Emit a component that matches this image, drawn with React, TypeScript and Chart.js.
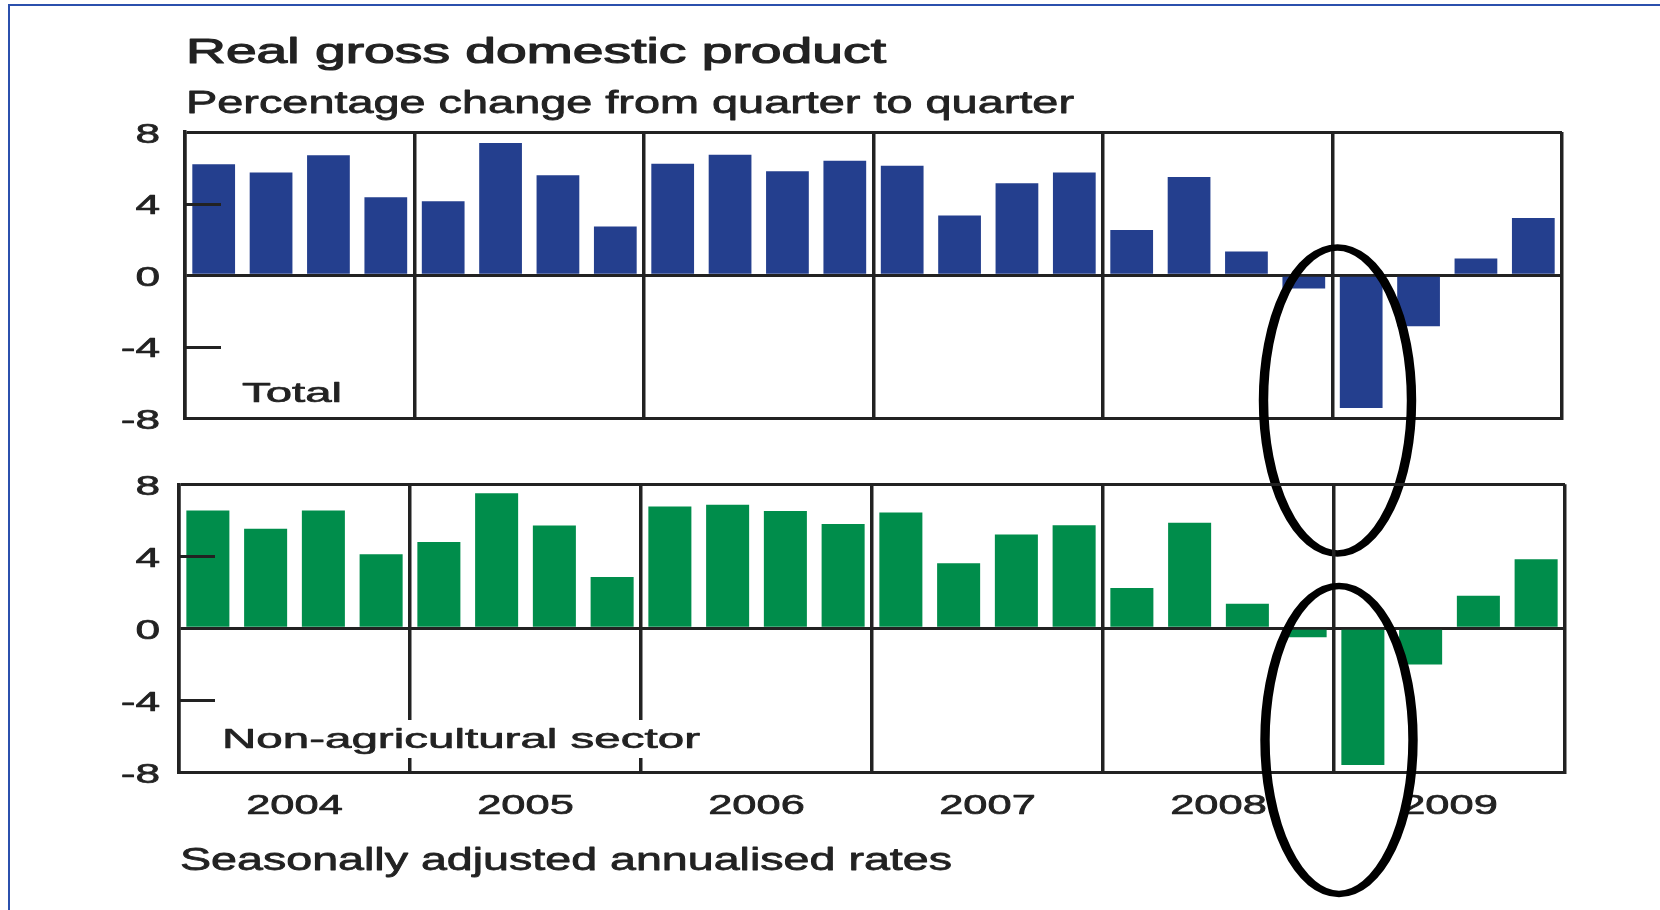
import { useEffect, useRef } from 'react';
import { Chart, registerables } from 'chart.js';

Chart.register(...registerables);

const YEARS = ['2004', '2005', '2006', '2007', '2008', '2009'];
const QUARTER_NAMES = ['Q1', 'Q2', 'Q3', 'Q4'];
const QUARTERS = YEARS.flatMap((y) => QUARTER_NAMES.map((q) => `${y} ${q}`));

const TOTAL_GDP = [
  6.2, 5.73, 6.7, 4.35,
  4.13, 7.39, 5.58, 2.72,
  6.23, 6.73, 5.8, 6.4,
  6.12, 3.34, 5.14, 5.73,
  2.52, 5.49, 1.32, -0.74,
  -7.42, -2.86, 0.93, 3.19,
];

const NONAG_GDP = [
  6.54, 5.53, 6.54, 4.12,
  4.79, 7.5, 5.71, 2.85,
  6.77, 6.86, 6.51, 5.8,
  6.43, 3.62, 5.21, 5.73,
  2.24, 5.86, 1.37, -0.5,
  -7.6, -2.01, 1.81, 3.83,
];

const Y_TICKS = [-8, -4, 0, 4, 8];
const Y_FRAME_TICKS = [-8, 0, 8];
const Y_INNER_TICKS = [4, -4, -8];

const TITLE = 'Real gross domestic product';
const SUBTITLE = 'Percentage change from quarter to quarter';
const PANEL_TOP = 'Total';
const PANEL_BOTTOM = 'Non-agricultural sector';
const FOOTNOTE = 'Seasonally adjusted annualised rates';

const INK = '#222222';
const BLUE = '#243f8e';
const GREEN = '#008d4b';
const FONT = '"Liberation Sans", Arial, Helvetica, sans-serif';
const STRETCH = 1.5;

type TextOpts = {
  size: number;
  width?: number;
  scaleX?: number;
  align?: 'left' | 'right' | 'center';
  weight?: string;
  heavy?: number;
};

function drawStretched(ctx: CanvasRenderingContext2D, text: string, x: number, y: number, o: TextOpts) {
  ctx.save();
  ctx.font = `${o.weight || 'normal'} ${o.size}px ${FONT}`;
  ctx.textBaseline = 'alphabetic';
  ctx.textAlign = 'left';
  ctx.fillStyle = INK;
  ctx.strokeStyle = INK;
  ctx.lineJoin = 'round';
  const w = ctx.measureText(text).width;
  const sx = o.width ? o.width / w : o.scaleX || STRETCH;
  ctx.translate(x, y);
  ctx.scale(sx, 1);
  const dx = o.align === 'right' ? -w : o.align === 'center' ? -w / 2 : 0;
  ctx.fillText(text, dx, 0);
  ctx.lineWidth = o.heavy !== undefined ? o.heavy : o.size * 0.024;
  ctx.strokeText(text, dx, 0);
  ctx.restore();
}

function drawYLabels(chart: any, labelRight: number) {
  const ctx = chart.ctx as CanvasRenderingContext2D;
  const y = chart.scales.y;
  const area = chart.chartArea;
  for (const t of y.ticks) {
    const py = y.getPixelForValue(t.value);
    drawStretched(ctx, String(t.value), labelRight, py + 10.5, { size: 28, scaleX: 1.58, align: 'right' });
  }
  ctx.save();
  ctx.strokeStyle = INK;
  ctx.lineWidth = 3;
  for (const v of Y_INNER_TICKS) {
    const py = Math.round(y.getPixelForValue(v)) + 0.5;
    ctx.beginPath();
    ctx.moveTo(area.left, py);
    ctx.lineTo(area.left + 36, py);
    ctx.stroke();
  }
  ctx.restore();
}

function drawEllipse(chart: any, centerValue: number, rx: number, ry: number) {
  const ctx = chart.ctx as CanvasRenderingContext2D;
  const x = chart.scales.x;
  const y = chart.scales.y;
  const cx = (x.getPixelForValue(19) + x.getPixelForValue(20)) / 2 + 5;
  const cy = y.getPixelForValue(centerValue);
  const s = 1.45;
  ctx.save();
  ctx.translate(cx, cy);
  ctx.scale(s, 1);
  ctx.beginPath();
  ctx.ellipse(0, 0, rx / s, ry, 0, 0, Math.PI * 2);
  ctx.lineWidth = 6.5;
  ctx.strokeStyle = '#000000';
  ctx.stroke();
  ctx.restore();
}

const topPlugin = {
  id: 'topPanelDecor',
  afterDraw(chart: any) {
    const ctx = chart.ctx as CanvasRenderingContext2D;
    drawStretched(ctx, TITLE, 186, 63, { size: 35, width: 700, heavy: 1.1 });
    drawStretched(ctx, SUBTITLE, 186, 112.5, { size: 32, width: 888 });
    drawYLabels(chart, 160);
    drawStretched(ctx, PANEL_TOP, 242, 401.5, { size: 28, width: 100 });
    drawEllipse(chart, -7, 74, 153);
  },
};

const bottomPlugin = {
  id: 'bottomPanelDecor',
  afterDraw(chart: any) {
    const ctx = chart.ctx as CanvasRenderingContext2D;
    const x = chart.scales.x;
    drawYLabels(chart, 160);
    ctx.save();
    ctx.fillStyle = '#ffffff';
    ctx.fillRect(214, 280, 494, 38);
    ctx.restore();
    drawStretched(ctx, PANEL_BOTTOM, 222, 308.3, { size: 28, width: 478 });
    YEARS.forEach((yr, i) => {
      const c = (x.getPixelForValue(i * 4) + x.getPixelForValue(i * 4 + 3)) / 2;
      drawStretched(ctx, yr, c, 374, { size: 28, scaleX: 1.55, align: 'center' });
    });
    drawStretched(ctx, FOOTNOTE, 180, 430, { size: 31.5, width: 772 });
    drawEllipse(chart, -6.2, 74, 154);
  },
};

function makeConfig(values: number[], color: string, padding: any, plugin: any): any {
  return {
    type: 'bar',
    data: {
      labels: QUARTERS,
      datasets: [
        {
          data: values,
          backgroundColor: color,
          borderWidth: 0,
          barPercentage: 0.745,
          categoryPercentage: 1,
        },
      ],
    },
    options: {
      animation: false,
      responsive: false,
      maintainAspectRatio: false,
      events: [],
      layout: { padding },
      plugins: {
        legend: { display: false },
        tooltip: { enabled: false },
        title: { display: false },
      },
      scales: {
        x: {
          type: 'category',
          offset: true,
          ticks: { display: false },
          grid: {
            offset: true,
            drawTicks: false,
            lineWidth: 3.5,
            color: (c: any) => (c.index === undefined || c.index % 4 === 0 ? INK : 'rgba(0,0,0,0)'),
          },
          border: { display: true, color: INK, width: 3 },
          afterFit: (s: any) => {
            s.height = 0;
          },
        },
        y: {
          min: -8,
          max: 8,
          afterBuildTicks: (s: any) => {
            s.ticks = Y_TICKS.map((v) => ({ value: v }));
          },
          ticks: { display: false },
          grid: {
            drawTicks: false,
            lineWidth: 3,
            color: (c: any) =>
              c.tick && Y_FRAME_TICKS.includes(c.tick.value) ? INK : 'rgba(0,0,0,0)',
          },
          border: { display: true, color: INK, width: 3.5 },
          afterFit: (s: any) => {
            s.width = 0;
          },
        },
      },
    },
    plugins: [plugin],
  };
}

export default function App() {
  const topRef = useRef<HTMLCanvasElement>(null);
  const botRef = useRef<HTMLCanvasElement>(null);

  useEffect(() => {
    const c1 = new Chart(
      topRef.current as HTMLCanvasElement,
      makeConfig(TOTAL_GDP, BLUE, { left: 185, right: 98, top: 132, bottom: 620 - 418.3 }, topPlugin)
    );
    const c2 = new Chart(
      botRef.current as HTMLCanvasElement,
      makeConfig(NONAG_GDP, GREEN, { left: 179, right: 95, top: 44.3, bottom: 470 - 332.3 }, bottomPlugin)
    );
    return () => {
      c1.destroy();
      c2.destroy();
    };
  }, []);

  return (
    <div
      style={{
        position: 'fixed',
        left: 0,
        top: 0,
        width: 1660,
        height: 910,
        background: '#ffffff',
        overflow: 'hidden',
      }}
    >
      <div
        style={{
          position: 'absolute',
          left: 8,
          top: 4,
          right: -4,
          bottom: -4,
          borderTop: '2px solid #2b50ad',
          borderLeft: '2px solid #2b50ad',
        }}
      />
      <canvas
        ref={topRef}
        width={1660}
        height={620}
        style={{ position: 'absolute', left: 0, top: 0, width: 1660, height: 620 }}
      />
      <canvas
        ref={botRef}
        width={1660}
        height={470}
        style={{ position: 'absolute', left: 0, top: 440, width: 1660, height: 470 }}
      />
    </div>
  );
}
